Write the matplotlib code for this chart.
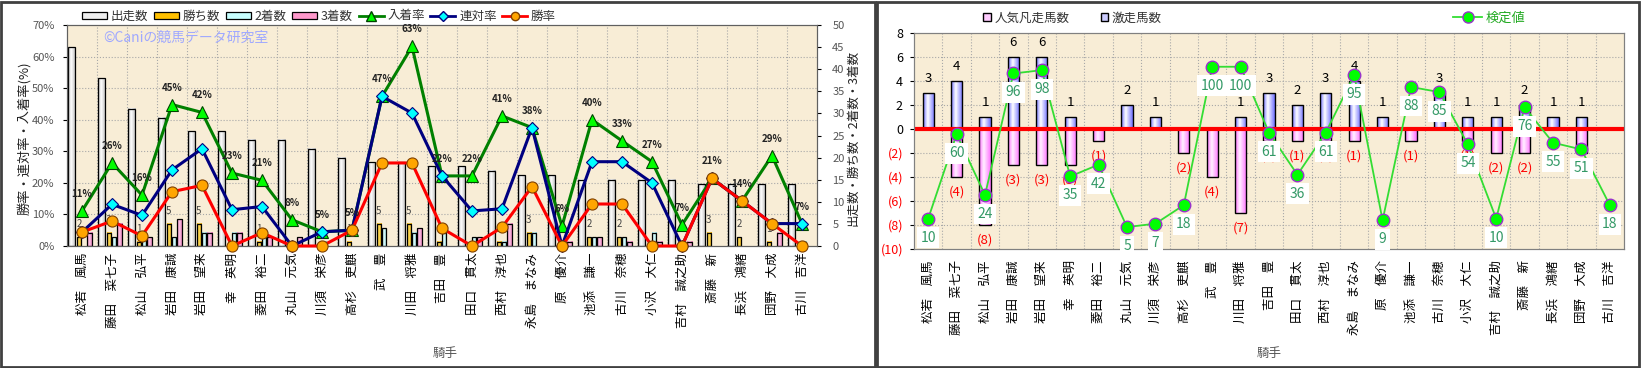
import numpy as np
import matplotlib
matplotlib.use('Agg')
import matplotlib.pyplot as plt
from matplotlib.patches import Rectangle, Patch
from matplotlib.lines import Line2D
from matplotlib.colors import LinearSegmentedColormap

plt.rcParams['font.family'] = ['Noto Sans CJK JP', 'DejaVu Sans']

# --- data ---
jockeys = ['松若　風馬', '藤田　菜七子', '松山　弘平', '岩田　康誠', '岩田　望来',
           '幸　英明', '菱田　裕二', '丸山　元気', '川須　栄彦', '高杉　吏麒',
           '武　豊', '川田　将雅', '吉田　豊', '田口　貫太', '西村　淳也',
           '永島　まなみ', '原　優介', '池添　謙一', '古川　奈穂', '小沢　大仁',
           '吉村　誠之助', '斎藤　新', '長浜　鴻緒', '団野　大成', '古川　吉洋']

runs = [45, 38, 31, 29, 26, 26, 24, 24, 22, 20, 19, 19, 18, 18, 17, 16, 16, 15, 15, 15, 15, 14, 14, 14, 14]
wins = [2, 3, 1, 5, 5, 0, 1, 0, 0, 1, 5, 5, 1, 0, 1, 3, 0, 2, 2, 0, 0, 3, 2, 1, 0]
seconds = [0, 2, 2, 2, 3, 3, 2, 0, 1, 0, 4, 3, 3, 2, 1, 3, 0, 2, 2, 3, 0, 0, 0, 0, 1]
thirds = [3, 5, 2, 6, 3, 3, 2, 2, 0, 0, 0, 4, 0, 2, 5, 0, 1, 2, 1, 1, 1, 0, 0, 3, 0]

# rates in %
win_rate = [4.4, 7.9, 3.2, 17.2, 19.2, 0, 4.2, 0, 0, 5.0, 26.3, 26.3, 5.6, 0, 5.9,
            18.8, 0, 13.3, 13.3, 0, 0, 21.4, 14.3, 7.1, 0]
rentai_rate = [4.4, 13.2, 9.7, 24.1, 30.8, 11.5, 12.5, 0, 4.5, 5.0, 47.4, 42.1, 22.2, 11.1, 11.8,
               37.5, 0, 26.7, 26.7, 20.0, 0, 21.4, 14.3, 7.1, 7.1]
place_rate = [11.1, 26.3, 16.1, 44.8, 42.3, 23.1, 20.8, 8.3, 4.5, 5.0, 47.4, 63.2, 22.2, 22.2, 41.2,
              37.5, 6.3, 40.0, 33.3, 26.7, 6.7, 21.4, 14.3, 28.6, 7.1]

# right chart
gekisou = [3, 4, 1, 6, 6, 1, 0, 2, 1, 0, 0, 1, 3, 2, 3, 4, 1, 0, 3, 1, 1, 2, 1, 1, 0]
bonsou = [0, 4, 8, 3, 3, 3, 1, 0, 0, 2, 4, 7, 1, 1, 1, 1, 0, 1, 0, 1, 2, 2, 0, 2, 0]
kentei = [10, 60, 24, 96, 98, 35, 42, 5, 7, 18, 100, 100, 61, 36, 61, 95, 9, 88, 85, 54, 10, 76, 55, 51, 18]

W, H = 1641, 368
BG = '#F8EDD6'
GRID = '#A8A8A8'
TXT = '#555555'


def shade_bars(ax, bars, edge, mid):
    # fake the excel-style cylinder shading
    cmap = LinearSegmentedColormap.from_list('g', [(0, edge), (0.4, mid), (1, edge)])
    grad = np.linspace(0, 1, 64).reshape(1, -1)
    for b in bars:
        h = b.get_height()
        if h == 0:
            b.set_visible(False)
            continue
        x0, y0, w = b.get_x(), b.get_y(), b.get_width()
        ax.imshow(grad, cmap=cmap, extent=(x0, x0 + w, y0, y0 + h),
                  aspect='auto', zorder=2, interpolation='bilinear')


fig = plt.figure(figsize=(W / 100, H / 100), dpi=100)
fig.patch.set_facecolor('white')
fig.add_artist(Rectangle((1 / W, 1 / H), 874 / W, 365 / H, transform=fig.transFigure,
                         fill=False, ec='#404040', lw=2))
fig.add_artist(Rectangle((877 / W, 1 / H), 762 / W, 365 / H, transform=fig.transFigure,
                         fill=False, ec='#404040', lw=2))

x = np.arange(len(jockeys))

# ================= left chart =================
axL = fig.add_axes([67 / W, 1 - 246 / H, 750 / W, 221 / H])
axL.set_facecolor(BG)
for v in np.arange(1, 7) * 50 / 7:
    axL.axhline(v, ls=':', color=GRID, lw=0.8, zorder=0.5)
for i in range(len(jockeys) - 1):
    axL.axvline(i + 0.5, ls=':', color=GRID, lw=0.8, zorder=0.5)

specs = [(runs, -0.35, 0.26, '#B8B8B8', '#FFFFFF'),
         (wins, -0.105, 0.15, '#E0A000', '#FFE060'),
         (seconds, 0.07, 0.15, '#80D0D0', '#E8FFFF'),
         (thirds, 0.245, 0.17, '#E070B0', '#FFC8E8')]
for vals, off, w, edge, mid in specs:
    bars = axL.bar(x + off, vals, width=w, facecolor='none', edgecolor='black', lw=0.9, zorder=2.2)
    shade_bars(axL, bars, edge, mid)

for xi, wv in zip(x, wins):
    if wv > 0:
        axL.annotate(str(wv), (xi - 0.105, wv), xytext=(0, 13), textcoords='offset pixels',
                     ha='center', va='center', fontsize=7, color='#444444', zorder=3)

axL.set_xlim(-0.5, len(jockeys) - 0.5)
axL.set_ylim(0, 50)
axL.set_xticks(x)
axL.set_xticklabels(jockeys, rotation=90, fontsize=9, va='top', ha='center')
axL.tick_params(axis='x', length=0, pad=5)

axL2 = axL.twinx()
# bars keep the right-hand scale, lines take the left one
axL.yaxis.tick_right()
axL2.yaxis.tick_left()
axL.set_yticks(range(0, 51, 5))
axL.tick_params(axis='y', labelsize=8, labelcolor=TXT, length=3, pad=8)
for s in axL.spines.values():
    s.set_color('#606060')

axL2.plot(x, place_rate, color='#008000', lw=2.2, marker='^', ms=9, mfc='#00FF00',
          mec='#004400', mew=0.8, zorder=5, clip_on=False)
axL2.plot(x, rentai_rate, color='#000080', lw=2.2, marker='D', ms=6, mfc='#00FFFF',
          mec='#000080', mew=0.8, zorder=6, clip_on=False)
axL2.plot(x, win_rate, color='#FF0000', lw=2.2, marker='o', ms=8, mfc='#FFA500',
          mec='#804000', mew=0.8, zorder=7, clip_on=False)
for xi, p in zip(x, place_rate):
    axL2.annotate(f'{int(p + 0.5)}%', (xi, p), xytext=(0, 17), textcoords='offset pixels',
                  ha='center', va='center', fontsize=7, fontweight='bold', color='#222222',
                  zorder=8, annotation_clip=False)
axL2.set_ylim(0, 70)
axL2.set_yticks(range(0, 71, 10))
axL2.set_yticklabels([f'{v}%' for v in range(0, 71, 10)])
axL2.tick_params(axis='y', labelsize=8, labelcolor=TXT, length=3, pad=6)
for s in axL2.spines.values():
    s.set_color('#606060')

fig.text(103 / W, 1 - 38 / H, '©Caniの競馬データ研究室', fontsize=10, color='#9FA8FF',
         ha='left', va='center')
fig.text(24 / W, 1 - 138 / H, '勝率・連対率・入着率(%)', rotation=90, fontsize=9.5,
         ha='center', va='center', color='#222222')
fig.text(853 / W, 1 - 138 / H, '出走数・勝ち数・2着数・3着数', rotation=90, fontsize=9,
         ha='center', va='center', color='#222222')
fig.text(445 / W, 1 - 353 / H, '騎手', fontsize=9, ha='center', va='center', color=TXT)

handlesL = [Patch(facecolor='#EEEEEE', edgecolor='black', lw=0.9),
            Patch(facecolor='#FFC000', edgecolor='black', lw=0.9),
            Patch(facecolor='#C8FFFF', edgecolor='black', lw=0.9),
            Patch(facecolor='#FF99CC', edgecolor='black', lw=0.9),
            Line2D([], [], color='#008000', lw=2, marker='^', ms=7, mfc='#00FF00', mec='#004400'),
            Line2D([], [], color='#000080', lw=2, marker='D', ms=5, mfc='#00FFFF', mec='#000080'),
            Line2D([], [], color='#FF0000', lw=2, marker='o', ms=6, mfc='#FFA500', mec='#804000')]
labelsL = ['出走数', '勝ち数', '2着数', '3着数', '入着率', '連対率', '勝率']
fig.legend(handlesL, labelsL, loc='center left', bbox_to_anchor=(82 / W, 1 - 16 / H), ncol=7,
           frameon=False, fontsize=9, handlelength=2.0, handleheight=0.5, columnspacing=0.45,
           handletextpad=0.3, borderaxespad=0, borderpad=0, labelcolor='#333333')

# ================= right chart =================
axR = fig.add_axes([914 / W, 1 - 249 / H, 710 / W, 216 / H])
axR.set_facecolor(BG)
for v in range(-8, 8, 2):
    axR.axhline(v, ls=':', color=GRID, lw=0.8, zorder=0.5)
for i in range(len(jockeys) - 1):
    axR.axvline(i + 0.5, ls=':', color=GRID, lw=0.8, zorder=0.5)

b_up = axR.bar(x, gekisou, width=0.4, facecolor='none', edgecolor='black', lw=1, zorder=2.2)
shade_bars(axR, b_up, '#7070FF', '#FFFFFF')
b_dn = axR.bar(x, [-b for b in bonsou], width=0.4, facecolor='none', edgecolor='black', lw=1, zorder=2.2)
shade_bars(axR, b_dn, '#FF70FF', '#FFF0FF')
axR.axhline(0, color='#FF0000', lw=3, zorder=3)

for xi, g in zip(x, gekisou):
    if g > 0:
        axR.annotate(str(g), (xi, g), xytext=(0, 14), textcoords='offset pixels',
                     ha='center', va='center', fontsize=9.5, color='black', zorder=3)
for xi, b in zip(x, bonsou):
    if b > 0:
        axR.annotate(f'({b})', (xi, -b), xytext=(0, -15), textcoords='offset pixels',
                     ha='center', va='center', fontsize=9.5, color='#FF0000', zorder=3)

axR.set_xlim(-0.5, len(jockeys) - 0.5)
axR.set_ylim(-10, 8)
ticks = list(range(-10, 9, 2))
axR.set_yticks(ticks)
axR.set_yticklabels([str(t) if t >= 0 else f'({-t})' for t in ticks])
for lbl, t in zip(axR.get_yticklabels(), ticks):
    lbl.set_color('#FF0000' if t < 0 else 'black')
axR.tick_params(axis='y', labelsize=9, length=3, pad=5)
axR.set_xticks(x)
axR.set_xticklabels(jockeys, rotation=90, fontsize=9, va='top', ha='center')
axR.tick_params(axis='x', length=0, pad=8)
for s in axR.spines.values():
    s.set_color('#808080')

axR2 = axR.twinx()
axR2.plot(x, kentei, color='#33DD33', lw=1.3, marker='o', ms=9, mfc='#00FF00',
          mec='#9933CC', mew=1, zorder=5, clip_on=False)
for xi, k in zip(x, kentei):
    axR2.annotate(str(k), (xi, k), xytext=(0, -19), textcoords='offset pixels',
                  ha='center', va='center', fontsize=10, color='#339966', zorder=6,
                  annotation_clip=False,
                  bbox=dict(boxstyle='square,pad=0.25', fc='white', ec='none'))
axR2.set_ylim(-8, 120)
axR2.set_yticks([])
for s in axR2.spines.values():
    s.set_color('#808080')

fig.text(1269 / W, 1 - 353 / H, '騎手', fontsize=9, ha='center', va='center', color=TXT)

handlesR = [Patch(facecolor='#FFCCFF', edgecolor='black', lw=1),
            Patch(facecolor='#CCCCFF', edgecolor='black', lw=1)]
fig.legend(handlesR, ['人気凡走馬数', '激走馬数'], loc='center left',
           bbox_to_anchor=(983 / W, 1 - 18 / H), ncol=2, frameon=False, fontsize=9,
           handlelength=0.6, handleheight=0.6, columnspacing=2.5, handletextpad=0.3,
           borderaxespad=0, borderpad=0, labelcolor='#333333')
fig.legend([Line2D([], [], color='#33DD33', lw=1.3, marker='o', ms=8, mfc='#00FF00', mec='#9933CC')],
           ['検定値'], loc='center left', bbox_to_anchor=(1453 / W, 1 - 18 / H), frameon=False,
           fontsize=9.5, handlelength=2.2, handletextpad=0.3, borderaxespad=0, borderpad=0,
           labelcolor='#22AA22')

fig.savefig('out.png', dpi=100)
